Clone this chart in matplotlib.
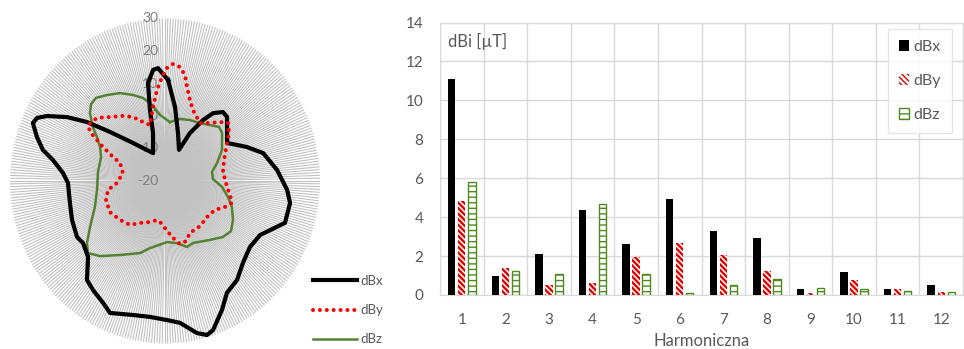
import numpy as np
import matplotlib.pyplot as plt
from matplotlib.transforms import offset_copy

plt.rcParams['font.family'] = ['Lato', 'DejaVu Sans']

# --- radar data: angle [deg, clockwise from top] and level [dB] ---
bx_deg = [1.8, 8.1, 15.9, 25.2, 28.6, 33.2, 36.6, 41.4, 45.4, 59.7, 68.4, 74.8,
          84.6, 94.0, 99.5, 108.4, 118.4, 126.5, 135.1, 142.6, 149.9, 155.1,
          161.3, 164.0, 167.6, 173.7, 179.1, 186.6, 194.0, 203.6, 208.0, 214.7,
          219.6, 226.7, 234.2, 238.7, 248.2, 257.6, 268.9, 274.3, 280.1, 283.6,
          288.2, 292.7, 295.2, 297.7, 301.9, 305.8, 310.4, 318.6, 335.9, 345.4,
          347.5, 349.7, 353.6, 356.3]
bx_val = [11.1, 3.0, -4.7, -9.4, -3.2, 2.4, 6.0, 8.3, 8.1, 3.2, 8.4, 12.8,
          16.3, 19.5, 20.9, 20.8, 14.9, 14.1, 15.6, 18.3, 19.8, 23.7,
          28.4, 29.3, 27.9, 23.9, 22.8, 22.1, 22.5, 24.3, 22.5, 20.8,
          19.5, 14.1, 12.6, 13.2, 12.3, 11.4, 11.3, 13.0, 16.7, 20.5,
          23.5, 26.2, 25.6, 23.0, 17.2, 11.0, 3.3, -4.4, -10.6, -4.7,
          2.4, 10.6, 14.4, 14.8]

by_deg = [1.1, 4.1, 7.9, 11.2, 13.8, 17.9, 22.5, 32.3, 39.1, 44.4, 48.7, 54.5,
          59.7, 71.3, 81.6, 89.1, 95.3, 101.6, 107.4, 112.5, 118.9, 129.3,
          140.8, 153.3, 159.9, 166.0, 169.9, 176.5, 187.3, 192.2, 201.0, 212.0,
          219.8, 230.4, 241.7, 252.9, 261.5, 267.8, 280.2, 290.9, 293.8, 297.6,
          299.9, 302.0, 304.8, 311.5, 318.0, 325.9, 332.4, 338.6, 344.3, 350.4,
          354.7, 358.3]
by_val = [14.8, 16.1, 15.4, 13.2, 9.8, 6.2, 3.6, 1.1, 3.0, 5.4, 7.1, 5.4,
          3.2, 0.1, -1.1, -0.6, 0.1, 1.4, 2.6, 0.9, -1.6, -2.5,
          -2.1, -2.1, -0.3, 0.0, -1.6, -4.3, -7.3, -7.7, -6.5, -4.8,
          -2.4, -1.2, 0.2, -0.1, -1.4, -4.5, -6.2, -4.5, -1.7, 2.6,
          5.3, 8.5, 10.2, 9.3, 6.5, 4.2, 2.2, -0.5, -2.1, 3.1,
          8.1, 12.0]

bz_deg = [5.0, 14.2, 23.2, 32.3, 40.1, 46.3, 51.3, 62.6, 71.7, 79.7, 87.8, 95.7,
          103.6, 110.3, 118.7, 125.9, 132.7, 141.4, 154.6, 160.7, 168.6, 178.0,
          193.2, 200.0, 212.5, 222.2, 228.3, 232.8, 239.7, 250.5, 262.9, 277.3,
          289.7, 296.5, 301.7, 305.5, 310.8, 314.8, 319.0, 324.7, 331.8, 338.7,
          344.5, 349.8, 355.5]
bz_val = [-1.8, -0.3, 0.4, 1.1, 2.5, 4.1, 3.6, 0.7, -2.3, -4.6, -4.5, -1.5,
          0.9, 3.0, 5.0, 6.3, 5.4, 3.2, 1.1, 1.5, -0.5, -1.2,
          1.2, 3.6, 7.0, 11.2, 13.3, 11.6, 8.0, 4.0, 2.1, 1.8,
          1.9, 3.4, 5.8, 8.6, 12.0, 13.6, 13.9, 12.4, 10.7, 8.4,
          6.5, 3.8, 0.4]

r_ticks = [30, 20, 10, 0, -10, -20]

# --- harmonics data [uT] ---
harm = list(range(1, 13))
dbx = [11.08, 0.99, 2.10, 4.39, 2.60, 4.92, 3.28, 2.94, 0.31, 1.20, 0.31, 0.51]
dby = [4.82, 1.40, 0.51, 0.60, 1.93, 2.65, 2.05, 1.23, 0.08, 0.77, 0.31, 0.17]
dbz = [5.78, 1.25, 1.08, 4.65, 1.08, 0.12, 0.51, 0.80, 0.34, 0.29, 0.21, 0.14]

fig = plt.figure(figsize=(9.64, 3.49), dpi=100)

# radar plot
axp = fig.add_axes([10 / 964, 5.5 / 349, 310 / 964, 325 / 349], projection='polar')
axp.set_aspect('auto')
axp.set_theta_zero_location('N')
axp.set_theta_direction(-1)
axp.set_ylim(-20, 30)
axp.set_xticks(np.deg2rad(np.arange(0, 360, 1)))
axp.set_xticklabels([])
axp.set_yticks([])
axp.xaxis.grid(True, color='#c2c2c2', lw=0.8)
axp.yaxis.grid(False)
axp.spines['polar'].set_visible(False)
axp.tick_params(length=0)

lab_tr = offset_copy(axp.transData, fig=fig, x=-7, y=0, units='dots')
for v in r_ticks:
    axp.text(0, v, str(v), transform=lab_tr, ha='right', va='center',
             color='#7f7f7f', fontsize=10, zorder=2)


def closed(deg, val):
    return np.deg2rad(np.r_[deg, deg[0] + 360]), np.r_[val, val[0]]


t, r = closed(bx_deg, bx_val)
axp.plot(t, r, color='black', lw=3.0, solid_joinstyle='round', label='dBx', zorder=5)
t, r = closed(by_deg, by_val)
axp.plot(t, r, color='red', lw=2.9, ls=(0, (0.01, 1.7)), dash_capstyle='round',
         label='dBy', zorder=6)
t, r = closed(bz_deg, bz_val)
axp.plot(t, r, color='#548235', lw=1.8, label='dBz', zorder=4)

fig.legend(*axp.get_legend_handles_labels(), loc='upper left',
           bbox_to_anchor=(313 / 964, (349 - 275) / 349), frameon=False,
           fontsize=9.5, handlelength=3.3, handletextpad=0.3, labelspacing=1.3,
           borderpad=0, borderaxespad=0, labelcolor='#595959')

# bar chart
axb = fig.add_axes([440 / 964, 54 / 349, 523 / 964, 272.5 / 349])
x = np.array(harm)
w = 0.17
axb.bar(x - 0.23, dbx, w, color='black', label='dBx', zorder=3)
bars_y = axb.bar(x, dby, w, facecolor='white', edgecolor='#e00000', lw=0,
                 hatch='\\\\\\\\\\\\', label='dBy', zorder=3)
bars_z = axb.bar(x + 0.23, dbz, w, facecolor='white', edgecolor='#4e8a1e', lw=1.0,
                 hatch='---', label='dBz', zorder=3)
for b in bars_y:
    b.set_hatch_linewidth(1.7)
for b in bars_z:
    b.set_hatch_linewidth(1.0)

axb.set_xlim(0.5, 12.5)
axb.set_ylim(0, 14)
axb.set_yticks(np.arange(0, 15, 2))
axb.set_xticks(x)
axb.set_xticks(np.arange(0.5, 13, 1), minor=True)
axb.grid(True, which='major', axis='y', color='#d9d9d9', lw=1)
axb.grid(True, which='minor', axis='x', color='#d9d9d9', lw=1)
axb.set_axisbelow(True)
for s in axb.spines.values():
    s.set_color('#d9d9d9')
axb.tick_params(which='both', length=0, labelsize=11, labelcolor='#595959')
axb.tick_params(axis='y', pad=12)
axb.tick_params(axis='x', pad=13)
axb.set_xlabel('Harmoniczna', fontsize=12, color='#595959', labelpad=4)
axb.text(0.015, 0.93, 'dBi [µT]', transform=axb.transAxes, fontsize=12,
         color='#595959', ha='left', va='center')
axb.legend(loc='upper right', bbox_to_anchor=(952 / 964, (349 - 29) / 349),
           bbox_transform=fig.transFigure, borderaxespad=0, fontsize=11.5,
           handlelength=0.6, handleheight=0.6, handletextpad=0.3,
           labelspacing=1.25, borderpad=0.7, fancybox=False,
           edgecolor='#e0e0e0', labelcolor='#595959')

fig.savefig('out.png', dpi=100, facecolor='white')
